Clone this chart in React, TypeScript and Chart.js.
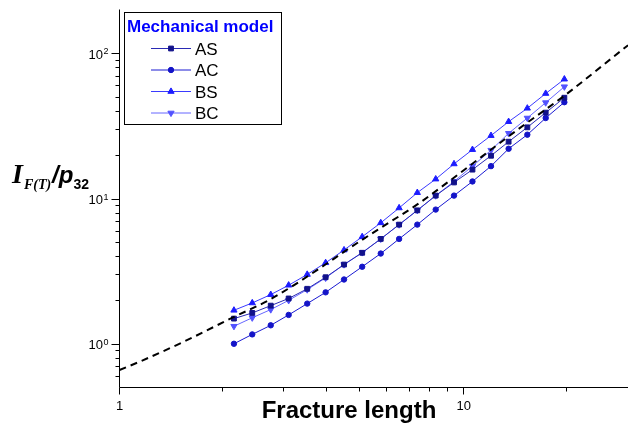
import React, { useEffect, useRef } from 'react';
import { Chart, registerables } from 'chart.js';

Chart.register(...registerables);

// ---------- data ----------
const fractureLength = [2.15, 2.43, 2.75, 3.1, 3.51, 3.97, 4.49, 5.07, 5.74, 6.49, 7.33, 8.29, 9.37, 10.6, 12.0, 13.5, 15.3, 17.3, 19.6];
const asValues = [1.49, 1.63, 1.83, 2.05, 2.39, 2.87, 3.51, 4.23, 5.27, 6.61, 8.29, 10.47, 12.9, 15.8, 19.7, 24.6, 30.9, 39.0, 49.4];
const acValues = [1.0, 1.16, 1.34, 1.58, 1.89, 2.26, 2.77, 3.39, 4.18, 5.27, 6.61, 8.39, 10.47, 13.1, 16.7, 22.0, 27.5, 35.8, 46.0];
const bsValues = [1.7, 1.91, 2.18, 2.53, 3.0, 3.61, 4.42, 5.45, 6.8, 8.61, 10.97, 13.6, 17.3, 21.7, 27.1, 33.8, 41.8, 52.8, 66.3];
const bcValues = [1.32, 1.51, 1.72, 1.99, 2.36, 2.84, 3.51, 4.25, 5.27, 6.61, 8.29, 10.47, 13.1, 16.7, 21.5, 28.1, 35.8, 45.7, 58.8];

const fitX = [1, 1.14, 1.52, 2.15, 2.74, 3.9, 4.51, 5.62, 7.33, 8.93, 14.4, 19.6, 29.3, 30];
const fitY = [0.66, 0.75, 1.02, 1.53, 2.02, 3.42, 4.33, 6.09, 9.1, 12.8, 30.0, 51.0, 108.6, 113.5];

const seriesLabels = ['AS', 'AC', 'BS', 'BC'];
const seriesValues = [asValues, acValues, bsValues, bcValues];
const seriesLine = ['#2a2ab4', '#1a1ad2', '#3a3aff', '#6666ff'];
const seriesPoint = ['#12128a', '#1414c8', '#1c1cff', '#5252ff'];
const seriesStyle = ['rect', 'circle', 'triangle', 'triangle'];
const seriesRotation = [0, 0, 0, 180];
const seriesRadius = [3.4, 2.7, 3.6, 3.6];

const xMajor = [1, 10];
const xMinor = [2, 3, 4, 5, 6, 7, 8, 9, 20];
const yMajor = [1, 10, 100];
const yMajorExp = ['0', '1', '2'];
const yMinor = [0.6, 0.7, 0.8, 0.9, 2, 3, 4, 5, 6, 7, 8, 9, 20, 30, 40, 50, 60, 70, 80, 90];

const legendTitle = 'Mechanical model';
const xTitle = 'Fracture length';

const SANS = '"Liberation Sans", Arial, sans-serif';
const SERIF = '"Liberation Serif", "Times New Roman", serif';

function drawMarker(ctx: CanvasRenderingContext2D, style: string, x: number, y: number, r: number, rot: number, color: string) {
  ctx.save();
  ctx.fillStyle = color;
  ctx.strokeStyle = color;
  ctx.lineWidth = 1;
  ctx.beginPath();
  if (style === 'rect') {
    const s = Math.SQRT1_2 * r;
    ctx.rect(x - s, y - s, 2 * s, 2 * s);
  } else if (style === 'circle') {
    ctx.arc(x, y, r, 0, Math.PI * 2);
  } else {
    const base = (rot * Math.PI) / 180;
    for (let k = 0; k < 3; k++) {
      const a = base - Math.PI / 2 + (k * 2 * Math.PI) / 3;
      const px = x + Math.cos(a) * r;
      const py = y + Math.sin(a) * r;
      if (k === 0) ctx.moveTo(px, py);
      else ctx.lineTo(px, py);
    }
    ctx.closePath();
  }
  ctx.fill();
  ctx.stroke();
  ctx.restore();
}

const decorPlugin = {
  id: 'decor',
  afterDraw(chart: any) {
    const ctx: CanvasRenderingContext2D = chart.ctx;
    const { left, right, top, bottom } = chart.chartArea;
    const xs = chart.scales.x;
    const ys = chart.scales.y;
    ctx.save();
    ctx.strokeStyle = '#000';
    ctx.lineWidth = 1;
    ctx.beginPath();
    ctx.moveTo(left, top);
    ctx.lineTo(left, bottom);
    ctx.lineTo(right, bottom);
    ctx.stroke();

    // x ticks
    ctx.beginPath();
    xMajor.forEach((v) => {
      const px = Math.round(xs.getPixelForValue(v)) + 0.5 - 1;
      ctx.moveTo(px, bottom);
      ctx.lineTo(px, bottom + 7);
    });
    xMinor.forEach((v) => {
      const px = Math.round(xs.getPixelForValue(v)) - 0.5;
      ctx.moveTo(px, bottom);
      ctx.lineTo(px, bottom + 4);
    });
    // y ticks
    yMajor.forEach((v) => {
      const py = Math.round(ys.getPixelForValue(v)) + 0.5;
      ctx.moveTo(left, py);
      ctx.lineTo(left - 8, py);
    });
    yMinor.forEach((v) => {
      const py = Math.round(ys.getPixelForValue(v)) + 0.5;
      ctx.moveTo(left, py);
      ctx.lineTo(left - 4, py);
    });
    ctx.stroke();

    // tick labels
    ctx.fillStyle = '#000';
    ctx.font = `13px ${SANS}`;
    ctx.textAlign = 'center';
    ctx.textBaseline = 'alphabetic';
    xMajor.forEach((v) => {
      ctx.fillText(String(v), xs.getPixelForValue(v), bottom + 22);
    });
    yMajor.forEach((v, i) => {
      const py = ys.getPixelForValue(v);
      ctx.font = `9px ${SANS}`;
      ctx.textAlign = 'right';
      const expW = ctx.measureText(yMajorExp[i]).width;
      ctx.fillText(yMajorExp[i], left - 11, py + 1);
      ctx.font = `13px ${SANS}`;
      ctx.fillText('10', left - 11 - expW - 0.5, py + 5.5);
    });

    // x title
    ctx.font = `bold 24px ${SANS}`;
    ctx.textAlign = 'center';
    ctx.fillText(xTitle, 349, 418);

    // y title  I_{F(T)} / p_{32}
    ctx.textAlign = 'left';
    let tx = 12;
    const yb = 183;
    ctx.font = `bold italic 28px ${SERIF}`;
    ctx.fillText('I', tx, yb);
    tx += ctx.measureText('I').width + 1;
    ctx.font = `bold italic 14px ${SERIF}`;
    ctx.fillText('F(T)', tx, yb + 6);
    tx += ctx.measureText('F(T)').width + 1;
    ctx.font = `bold italic 24px ${SANS}`;
    ctx.fillText('/p', tx, yb);
    tx += ctx.measureText('/p').width;
    ctx.font = `bold 14px ${SANS}`;
    ctx.fillText('32', tx, yb + 6);

    // legend
    const bx = 124.5, by = 12.5, bw = 157, bh = 112;
    ctx.fillStyle = '#fff';
    ctx.fillRect(bx, by, bw, bh);
    ctx.strokeStyle = '#000';
    ctx.lineWidth = 1;
    ctx.strokeRect(bx, by, bw, bh);
    ctx.fillStyle = '#0000ff';
    ctx.font = `bold 17px ${SANS}`;
    ctx.textAlign = 'left';
    ctx.fillText(legendTitle, 127, 32);
    const rows = [48.5, 70, 91.5, 113];
    seriesLabels.forEach((lab, i) => {
      const ry = rows[i];
      ctx.strokeStyle = seriesLine[i];
      ctx.lineWidth = 1;
      ctx.beginPath();
      ctx.moveTo(151, ry);
      ctx.lineTo(191, ry);
      ctx.stroke();
      drawMarker(ctx, seriesStyle[i], 171, ry, seriesRadius[i], seriesRotation[i], seriesPoint[i]);
      ctx.fillStyle = '#000';
      ctx.font = `17px ${SANS}`;
      ctx.fillText(lab, 195, ry + 6);
    });
    ctx.restore();
  },
};

export default function App() {
  const canvasRef = useRef<HTMLCanvasElement | null>(null);

  useEffect(() => {
    const canvas = canvasRef.current;
    if (!canvas) return;
    const datasets: any[] = [
      {
        label: 'fit',
        data: fitX.map((x, i) => ({ x, y: fitY[i] })),
        borderColor: '#000',
        borderWidth: 2,
        borderDash: [7, 5],
        pointRadius: 0,
        fill: false,
        cubicInterpolationMode: 'monotone',
      },
    ];
    seriesLabels.forEach((lab, i) => {
      datasets.push({
        label: lab,
        data: fractureLength.map((x, j) => ({ x, y: seriesValues[i][j] })),
        borderColor: seriesLine[i],
        borderWidth: 1,
        pointStyle: seriesStyle[i],
        pointRotation: seriesRotation[i],
        pointRadius: seriesRadius[i],
        pointBackgroundColor: seriesPoint[i],
        pointBorderColor: seriesPoint[i],
        pointBorderWidth: 1,
        fill: false,
        tension: 0,
      });
    });
    const chart = new Chart(canvas, {
      type: 'line',
      data: { datasets },
      options: {
        animation: false,
        responsive: false,
        devicePixelRatio: 1,
        events: [],
        layout: { padding: { left: 119.5, right: 0.4, top: 9.5, bottom: 45.5 } },
        scales: {
          x: { type: 'logarithmic', min: 1, max: 30, display: false },
          y: { type: 'logarithmic', min: 0.5, max: 200, display: false },
        },
        plugins: { legend: { display: false }, tooltip: { enabled: false } },
      } as any,
      plugins: [decorPlugin],
    });
    return () => chart.destroy();
  }, []);

  return (
    <div style={{ position: 'absolute', left: 0, top: 0, width: 629, height: 433, overflow: 'hidden', background: '#fff' }}>
      <canvas ref={canvasRef} width={633} height={433} style={{ width: 633, height: 433, display: 'block' }} />
    </div>
  );
}
